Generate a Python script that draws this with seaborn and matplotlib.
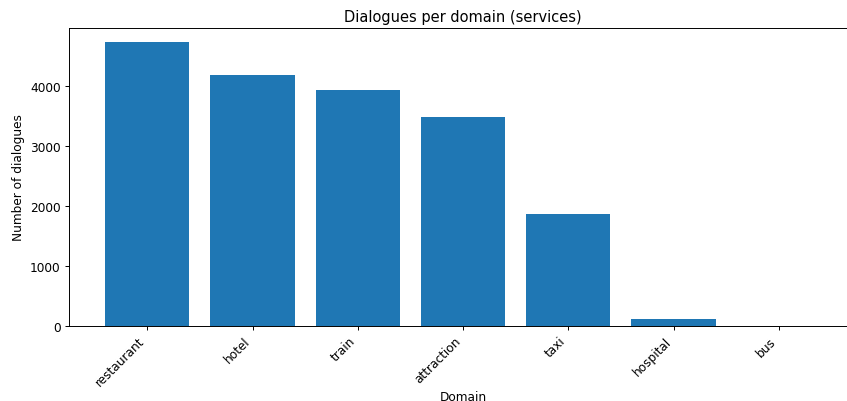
import matplotlib
matplotlib.use("Agg")
import matplotlib.pyplot as plt
import seaborn as sns
import pandas as pd

domains = ["restaurant", "hotel", "train", "attraction", "taxi", "hospital", "bus"]
dialogues = [4723, 4178, 3930, 3476, 1866, 107, 5]

df = pd.DataFrame({"Domain": domains, "Dialogues": dialogues})

s = 0.875
plt.rcParams.update({
    "font.size": 10 * s,
    "axes.titlesize": 12 * s,
    "axes.linewidth": 0.8 * s,
    "xtick.major.size": 3.5 * s,
    "ytick.major.size": 3.5 * s,
    "xtick.major.width": 0.8 * s,
    "ytick.major.width": 0.8 * s,
    "xtick.major.pad": 3.5 * s,
    "ytick.major.pad": 3.5 * s,
    "axes.titlepad": 6 * s,
    "axes.labelpad": 4 * s,
})

fig = plt.figure(figsize=(8.47, 4.02), dpi=100)
# axes run slightly past the right edge of the canvas
ax = fig.add_axes([0.0815, 0.187, 0.9304, 0.741])

sns.barplot(data=df, x="Domain", y="Dialogues", color="#1f77b4",
            saturation=1, width=0.8, ax=ax)

ax.set_xlim(-0.744, len(domains) - 1 + 0.744)
ax.set_ylim(0, 4960)
ax.set_yticks([0, 1000, 2000, 3000, 4000])
ax.set_title("Dialogues per domain (services)")
ax.set_xlabel("Domain", labelpad=1.0)
ax.set_ylabel("Number of dialogues")
plt.setp(ax.get_xticklabels(), rotation=45, ha="right")

fig.savefig("out.png", dpi=100)
